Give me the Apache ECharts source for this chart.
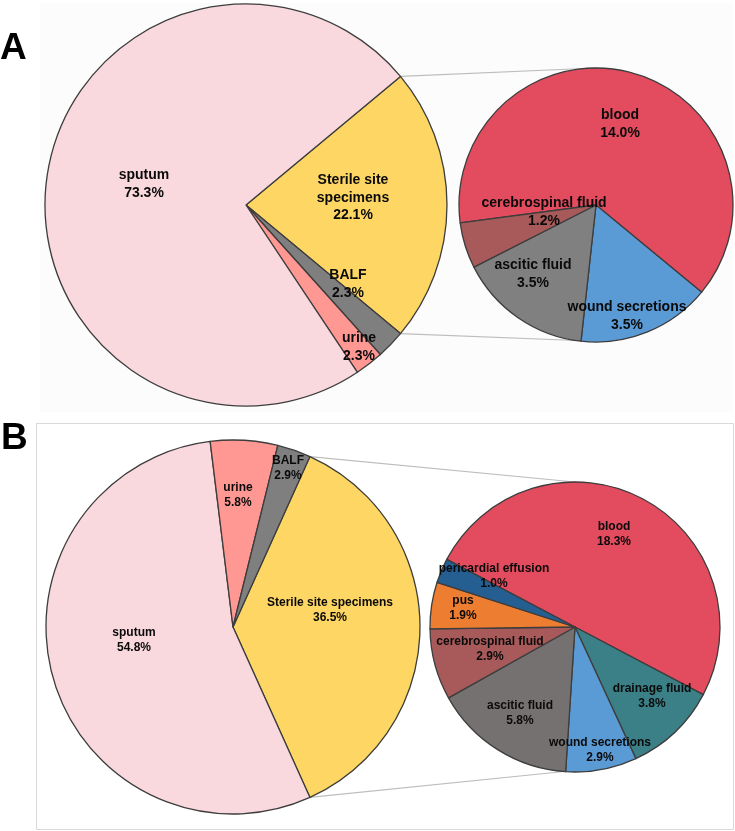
<!DOCTYPE html>
<html>
<head>
<meta charset="utf-8">
<script src="https://cdn.jsdelivr.net/npm/echarts@6/dist/echarts.min.js"></script>
<style>
  html, body { margin: 0; padding: 0; background: #fff; }
  #main { width: 735px; height: 831px; }
</style>
</head>
<body>
<div id="main"></div>
<script>
// panel A
var aMainNames = ["Sterile site specimens", "BALF", "urine", "sputum"];
var aMainValues = [22.1, 2.3, 2.3, 73.3];
var aSubNames = ["blood", "wound secretions", "ascitic fluid", "cerebrospinal fluid"];
var aSubValues = [14.0, 3.5, 3.5, 1.2];
// panel B
var bMainNames = ["Sterile site specimens", "sputum", "urine", "BALF"];
var bMainValues = [36.5, 54.8, 5.8, 2.9];
var bSubNames = ["blood", "drainage fluid", "wound secretions", "ascitic fluid", "cerebrospinal fluid", "pus", "pericardial effusion"];
var bSubValues = [18.3, 3.8, 2.9, 5.8, 2.9, 1.9, 1.0];

var colorOf = {
  "sputum": "#f9d9de",
  "Sterile site specimens": "#fdd663",
  "BALF": "#7f7f7f",
  "urine": "#ff9893",
  "blood": "#e34b5f",
  "wound secretions": "#5b9bd5",
  "ascitic fluid": "#808080",
  "cerebrospinal fluid": "#a85a5a",
  "drainage fluid": "#3b8087",
  "pus": "#ed7d31",
  "pericardial effusion": "#255e91"
};
// B uses a warmer, darker grey for ascitic fluid
var colorOverrideB = { "ascitic fluid": "#767171" };

// where each label block sits (centre of text)
var labelPos = [
  [[353, 198], [348, 284], [359, 347], [144, 184]],
  [[620, 124], [627, 316], [533, 274], [544, 212]],
  [[330, 610], [134, 640], [238, 495], [288, 468]],
  [[614, 534], [652, 696], [600, 750], [520, 713], [490, 649], [463, 608], [494, 576]]
];

var pies = [
  { names: aMainNames, values: aMainValues, center: [246, 205], r: 201, start: 39.78, fs: 14, lh: 17.5, over: {} },
  { names: aSubNames, values: aSubValues, center: [596, 205], r: 137, start: 187.5, fs: 14, lh: 17.5, over: {} },
  { names: bMainNames, values: bMainValues, center: [233, 627], r: 187, start: 65.7, fs: 12, lh: 14.5, over: colorOverrideB },
  { names: bSubNames, values: bSubValues, center: [575, 627], r: 145, start: 152.2, fs: 12, lh: 14.5, over: colorOverrideB }
];

function labelText(p, pieIdx) {
  var name = p.name;
  if (pieIdx === 0 && name === "Sterile site specimens") name = "Sterile site\nspecimens";
  return name + "\n" + p.value.toFixed(1) + "%";
}

var series = pies.map(function (pie, si) {
  return {
    type: "pie",
    center: pie.center,
    radius: pie.r,
    startAngle: pie.start,
    clockwise: true,
    animation: false,
    silent: true,
    emphasis: { disabled: true },
    itemStyle: { borderColor: "#3d3d3d", borderWidth: 1.3 },
    label: {
      show: true,
      position: "inside",
      fontFamily: "Liberation Sans, Arial, sans-serif",
      fontWeight: "bold",
      fontSize: pie.fs,
      lineHeight: pie.lh,
      color: "#0a0a0a",
      formatter: function (p) { return labelText(p, si); }
    },
    labelLine: { show: false },
    labelLayout: function (params) {
      var pos = labelPos[si][params.dataIndex];
      return { x: pos[0], y: pos[1], align: "center", verticalAlign: "middle" };
    },
    data: pie.names.map(function (n, i) {
      return { name: n, value: pie.values[i], itemStyle: { color: pie.over[n] || colorOf[n] } };
    })
  };
});

// connector lines from the split-out wedge to the secondary pie
function connectors(mainPie, subPie, wedgeValue) {
  var a0 = mainPie.start * Math.PI / 180;
  var a1 = (mainPie.start - 360 * wedgeValue / 100) * Math.PI / 180;
  var c = mainPie.center, r = mainPie.r;
  var p0 = [c[0] + r * Math.cos(a0), c[1] - r * Math.sin(a0)];
  var p1 = [c[0] + r * Math.cos(a1), c[1] - r * Math.sin(a1)];
  var sc = subPie.center, sr = subPie.r;
  var style = { stroke: "#bdbdbd", lineWidth: 1.2 };
  return [
    { type: "line", z: 1, shape: { x1: p0[0], y1: p0[1], x2: sc[0], y2: sc[1] - sr }, style: style },
    { type: "line", z: 1, shape: { x1: p1[0], y1: p1[1], x2: sc[0] - 6, y2: sc[1] + sr - 1 }, style: style }
  ];
}

var graphics = [
  { type: "rect", z: -10, shape: { x: 40, y: 3, width: 693, height: 409 }, style: { fill: "#fcfcfc" } },
  { type: "rect", z: -10, shape: { x: 36.5, y: 423.5, width: 697, height: 406 }, style: { fill: "#fff", stroke: "#d9d9d9", lineWidth: 1 } },
  { type: "text", z: 5, left: 0, top: 30, style: { text: "A", font: "bold 37px Liberation Sans, Arial, sans-serif", fill: "#000" } },
  { type: "text", z: 5, left: 1, top: 420, style: { text: "B", font: "bold 37px Liberation Sans, Arial, sans-serif", fill: "#000" } }
].concat(connectors(pies[0], pies[1], aMainValues[0]))
 .concat(connectors(pies[2], pies[3], bMainValues[0]));

var chart = echarts.init(document.getElementById("main"), null, { renderer: "canvas" });
chart.setOption({
  backgroundColor: "#fff",
  animation: false,
  graphic: { elements: graphics },
  series: series
});
</script>
</body>
</html>
